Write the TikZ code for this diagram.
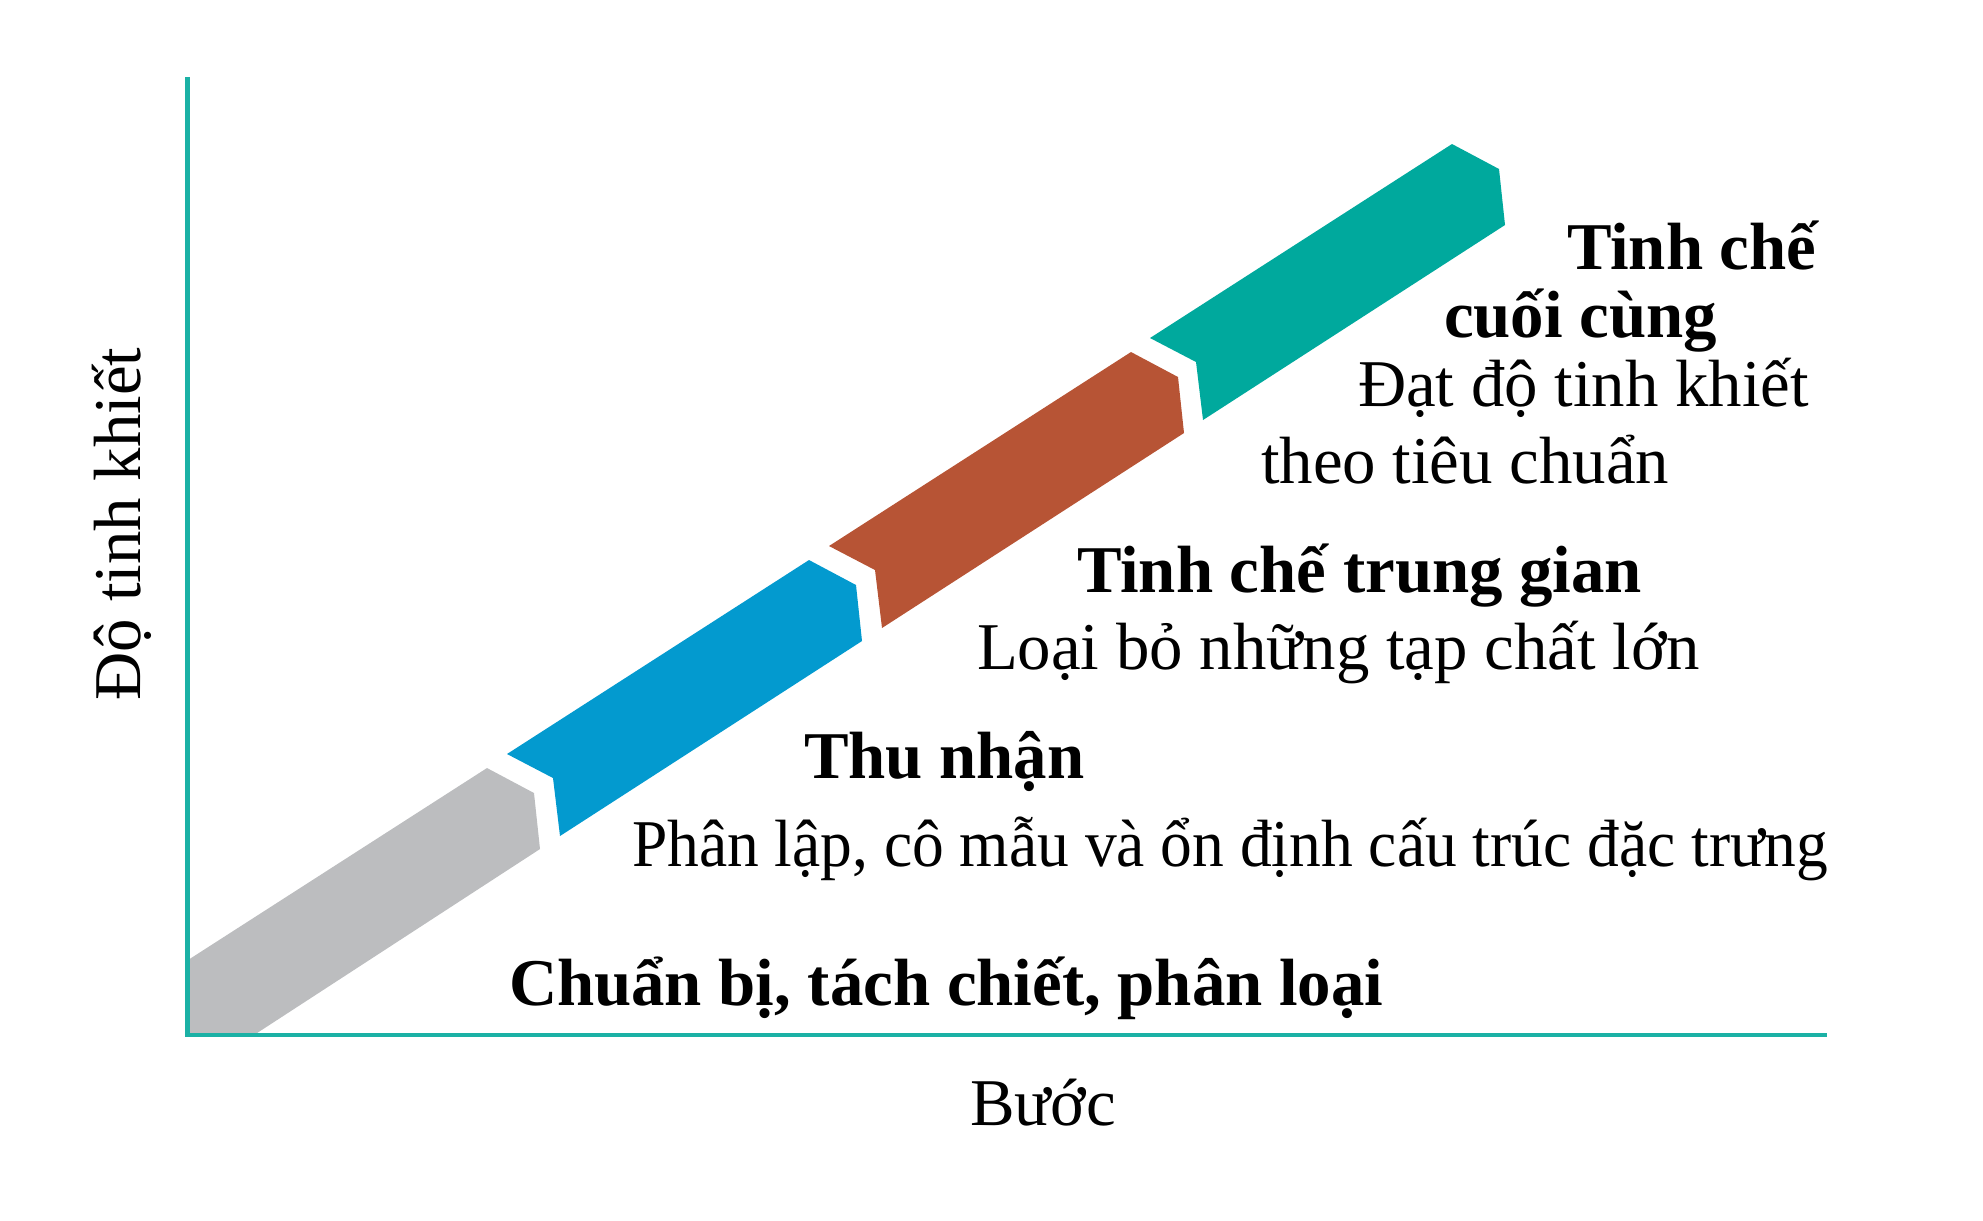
\documentclass[tikz,border=0pt]{standalone}
\usepackage{fontspec}
\setmainfont{Liberation Serif}
\definecolor{axisteal}{HTML}{1BB1A5}
\definecolor{cgray}{HTML}{BCBDBF}
\definecolor{cblue}{HTML}{039ACF}
\definecolor{cbrown}{HTML}{B75435}
\definecolor{cteal}{HTML}{00A99D}
\tikzset{
  lbl/.style={inner sep=0pt, outer sep=0pt, anchor=base west, font=\fontsize{19}{23}\selectfont},
  blbl/.style={lbl, font=\fontsize{19}{23}\selectfont\bfseries},
  axisline/.style={draw=axisteal, line width=1.2pt},
}
\newcommand{\stepband}[2]{%
  \fill[#1] ($#2+(-302,194)$) -- #2 -- ($#2+(47,25)$) -- ($#2+(53,81)$) -- ($#2+(-249,276)$) -- ($#2+(-256,218)$) -- cycle;}
\usetikzlibrary{calc}
\begin{document}
\begin{tikzpicture}[x=0.01cm, y=-0.01cm]
\useasboundingbox (0,0) rectangle (1983,1220);
% gray band (cut by the axes)
\fill[cgray] (188,960) -- (487,768) -- (534,793) -- (540,849) -- (254,1035) -- (188,1035) -- cycle;
\stepband{cblue}{(809,560)}
\stepband{cbrown}{(1131,352)}
\stepband{cteal}{(1452,144)}
% axes
\coordinate (ytop) at (187.5,77);
\coordinate (origin) at (187.5,1035);
\coordinate (xend) at (1827,1035);
\draw[axisline] (ytop) -- (origin) -- (xend);
% labels
\node[blbl] (t1a) at (1567,269) {Tinh chế};
\node[blbl] (t1b) at (1444,337) {cuối cùng};
\node[lbl] (d1a) at (1358,406) {Đạt độ tinh khiết};
\node[lbl] (d1b) at (1261,483) {theo tiêu chuẩn};
\node[blbl] (t2) at (1077,592) {Tinh chế trung gian};
\node[lbl] (d2) at (977,669) {Loại bỏ những tạp chất lớn};
\node[blbl] (t3) at (804,778) {Thu nhận};
\node[lbl] (d3) at (632,866) {\scalebox{0.95}[1]{Phân lập, cô mẫu và ổn định cấu trúc đặc trưng}};
\node[blbl] (t4) at (509,1005) {Chuẩn bị, tách chiết, phân loại};
\node[lbl] (xl) at (970,1125) {Bước};
\node[lbl, anchor=base, rotate=90] (yl) at (140,524) {Độ tinh khiết};
\end{tikzpicture}
\end{document}
